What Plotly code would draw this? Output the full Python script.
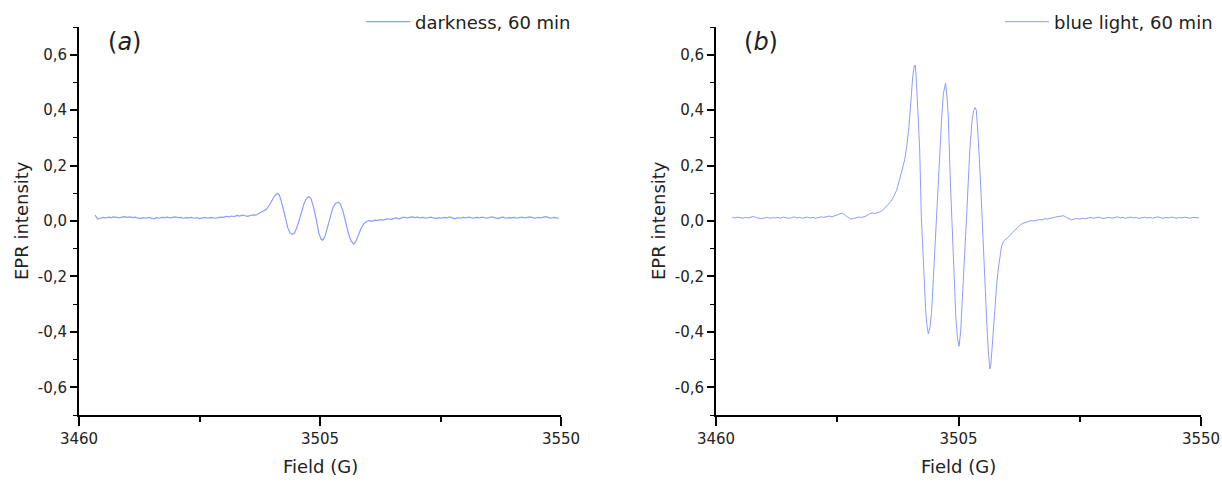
import plotly.graph_objects as go

# ---- EPR spectra (field in gauss, intensity in a.u.) ----
FIELD_A = [
    3463.0, 3463.5, 3464.0, 3464.5, 3465.0, 3465.5, 3466.0, 3466.5, 3467.0, 3467.5,
    3468.0, 3468.5, 3469.0, 3469.5, 3470.0, 3470.5, 3471.0, 3471.5, 3472.0, 3472.5,
    3473.0, 3473.5, 3474.0, 3474.5, 3475.0, 3475.5, 3476.0, 3476.5, 3477.0, 3477.5,
    3478.0, 3478.5, 3479.0, 3479.5, 3480.0, 3480.5, 3481.0, 3481.5, 3482.0, 3482.5,
    3483.0, 3483.5, 3484.0, 3484.5, 3485.0, 3485.5, 3486.0, 3486.5, 3487.0, 3487.5,
    3488.0, 3488.5, 3489.0, 3489.5, 3490.0, 3490.5, 3491.0, 3491.5, 3492.0, 3492.5,
    3493.0, 3493.5, 3494.0, 3494.5, 3495.0, 3495.5, 3496.0, 3496.5, 3497.0, 3497.4,
    3497.8, 3498.2, 3498.6, 3499.0, 3499.4, 3499.8, 3500.2, 3500.6, 3501.0, 3501.5,
    3502.0, 3502.5, 3502.9, 3503.3, 3503.8, 3504.3, 3504.8, 3505.2, 3505.5, 3505.9,
    3506.4, 3506.9, 3507.4, 3507.9, 3508.4, 3508.8, 3509.3, 3509.8, 3510.3, 3510.8,
    3511.3, 3511.7, 3512.2, 3512.7, 3513.2, 3513.7, 3514.2, 3514.7, 3515.2, 3515.7,
    3516.2, 3516.7, 3517.2, 3517.7, 3518.2, 3518.7, 3519.2, 3519.7, 3520.2, 3520.7,
    3521.2, 3521.7, 3522.2, 3522.7, 3523.2, 3523.7, 3524.2, 3524.7, 3525.2, 3525.7,
    3526.2, 3526.7, 3527.2, 3527.7, 3528.2, 3528.7, 3529.2, 3529.7, 3530.2, 3530.7,
    3531.2, 3531.7, 3532.2, 3532.7, 3533.2, 3533.7, 3534.2, 3534.7, 3535.2, 3535.7,
    3536.2, 3536.7, 3537.2, 3537.7, 3538.2, 3538.7, 3539.2, 3539.7, 3540.2, 3540.7,
    3541.2, 3541.7, 3542.2, 3542.7, 3543.2, 3543.7, 3544.2, 3544.7, 3545.2, 3545.7,
    3546.2, 3546.7, 3547.2, 3547.7, 3548.2, 3548.7, 3549.2, 3549.6,
]
EPR_A = [
    0.021, 0.007, 0.010, 0.013, 0.011, 0.014, 0.012, 0.015, 0.013, 0.011,
    0.014, 0.016, 0.013, 0.015, 0.012, 0.014, 0.011, 0.009, 0.012, 0.010,
    0.013, 0.011, 0.008, 0.012, 0.010, 0.013, 0.012, 0.014, 0.011, 0.013,
    0.015, 0.012, 0.013, 0.010, 0.012, 0.011, 0.013, 0.010, 0.012, 0.009,
    0.011, 0.013, 0.010, 0.012, 0.011, 0.010, 0.012, 0.014, 0.013, 0.017,
    0.015, 0.018, 0.016, 0.020, 0.018, 0.021, 0.019, 0.017, 0.020, 0.022,
    0.021, 0.027, 0.030, 0.036, 0.042, 0.056, 0.072, 0.090, 0.100, 0.094,
    0.070, 0.036, 0.004, -0.025, -0.043, -0.048, -0.044, -0.028, -0.004, 0.030,
    0.062, 0.082, 0.088, 0.082, 0.050, 0.005, -0.045, -0.066, -0.069, -0.058,
    -0.025, 0.015, 0.048, 0.064, 0.068, 0.062, 0.035, -0.005, -0.045, -0.072,
    -0.083, -0.074, -0.050, -0.025, -0.010, -0.002, 0.001, -0.001, 0.003, 0.002,
    0.005, 0.003, 0.006, 0.008, 0.006, 0.009, 0.011, 0.008, 0.012, 0.014,
    0.011, 0.013, 0.015, 0.012, 0.014, 0.011, 0.013, 0.010, 0.012, 0.014,
    0.011, 0.009, 0.012, 0.010, 0.013, 0.011, 0.015, 0.010, 0.008, 0.012,
    0.010, 0.013, 0.011, 0.014, 0.012, 0.010, 0.013, 0.011, 0.014, 0.012,
    0.010, 0.013, 0.015, 0.011, 0.009, 0.012, 0.014, 0.010, 0.012, 0.011,
    0.013, 0.010, 0.012, 0.014, 0.011, 0.013, 0.015, 0.012, 0.010, 0.013,
    0.011, 0.014, 0.016, 0.012, 0.010, 0.013, 0.011, 0.010,
]

FIELD_B = [
    3463.0, 3463.5, 3464.0, 3464.5, 3465.0, 3465.5, 3466.0, 3466.5, 3467.0, 3467.5,
    3468.0, 3468.5, 3469.0, 3469.5, 3470.0, 3470.5, 3471.0, 3471.5, 3472.0, 3472.5,
    3473.0, 3473.5, 3474.0, 3474.5, 3475.0, 3475.5, 3476.0, 3476.5, 3477.0, 3477.5,
    3478.0, 3478.5, 3479.0, 3479.5, 3480.0, 3480.5, 3481.0, 3481.5, 3482.0, 3482.5,
    3483.0, 3483.5, 3484.0, 3484.5, 3485.0, 3485.5, 3486.0, 3486.5, 3487.0, 3487.5,
    3488.0, 3488.5, 3489.0, 3489.5, 3490.0, 3490.5, 3491.0, 3491.5, 3492.0, 3492.5,
    3493.0, 3493.5, 3494.0, 3494.5, 3495.0, 3495.4, 3495.8, 3496.2, 3496.5, 3496.8,
    3497.0, 3497.2, 3497.5, 3497.8, 3498.1, 3498.4, 3498.6, 3498.9, 3499.1, 3499.4,
    3499.7, 3500.0, 3500.3, 3500.6, 3500.9, 3501.2, 3501.6, 3501.9, 3502.2, 3502.6,
    3502.9, 3503.1, 3503.5, 3504.0, 3504.5, 3504.8, 3505.1, 3505.4, 3505.9, 3506.5,
    3507.1, 3507.5, 3507.8, 3508.1, 3508.3, 3508.6, 3509.1, 3509.6, 3510.2, 3510.5,
    3510.8, 3511.0, 3511.4, 3511.7, 3512.1, 3512.4, 3512.7, 3513.0, 3513.4, 3513.8,
    3514.2, 3514.6, 3515.0, 3515.5, 3516.0, 3516.5, 3517.0, 3517.5, 3518.0, 3518.5,
    3519.0, 3519.5, 3520.0, 3520.5, 3521.0, 3521.5, 3522.0, 3522.5, 3523.0, 3523.5,
    3524.0, 3524.5, 3525.0, 3525.5, 3526.0, 3526.5, 3527.0, 3527.5, 3528.0, 3528.5,
    3529.0, 3529.5, 3530.0, 3530.5, 3531.0, 3531.5, 3532.0, 3532.5, 3533.0, 3533.5,
    3534.0, 3534.5, 3535.0, 3535.5, 3536.0, 3536.5, 3537.0, 3537.5, 3538.0, 3538.5,
    3539.0, 3539.5, 3540.0, 3540.5, 3541.0, 3541.5, 3542.0, 3542.5, 3543.0, 3543.5,
    3544.0, 3544.5, 3545.0, 3545.5, 3546.0, 3546.5, 3547.0, 3547.5, 3548.0, 3548.5,
    3549.0, 3549.6,
]
EPR_B = [
    0.013, 0.011, 0.014, 0.012, 0.010, 0.013, 0.011, 0.014, 0.016, 0.012,
    0.010, 0.008, 0.011, 0.013, 0.010, 0.012, 0.011, 0.013, 0.010, 0.014,
    0.012, 0.009, 0.012, 0.015, 0.011, 0.013, 0.010, 0.012, 0.014, 0.011,
    0.013, 0.010, 0.012, 0.015, 0.013, 0.016, 0.018, 0.015, 0.020, 0.022,
    0.026, 0.028, 0.020, 0.012, 0.007, 0.009, 0.011, 0.014, 0.013, 0.017,
    0.019, 0.026, 0.029, 0.027, 0.030, 0.034, 0.040, 0.050, 0.060, 0.072,
    0.090, 0.110, 0.145, 0.180, 0.220, 0.270, 0.340, 0.440, 0.520, 0.560,
    0.562, 0.500, 0.380, 0.257, 0.016, -0.130, -0.225, -0.320, -0.370, -0.407,
    -0.385, -0.330, -0.220, -0.105, 0.010, 0.137, 0.280, 0.378, 0.460, 0.498,
    0.440, 0.378, 0.137, -0.105, -0.347, -0.420, -0.452, -0.400, -0.226, 0.016,
    0.257, 0.360, 0.398, 0.410, 0.400, 0.318, 0.137, -0.105, -0.347, -0.460,
    -0.534, -0.520, -0.407, -0.310, -0.226, -0.170, -0.125, -0.090, -0.072, -0.066,
    -0.058, -0.052, -0.042, -0.032, -0.022, -0.014, -0.008, -0.004, -0.001, 0.002,
    0.000, 0.003, 0.005, 0.004, 0.008, 0.007, 0.010, 0.012, 0.014, 0.016,
    0.018, 0.019, 0.013, 0.007, 0.004, 0.007, 0.009, 0.006, 0.010, 0.008,
    0.011, 0.013, 0.010, 0.012, 0.014, 0.011, 0.009, 0.012, 0.013, 0.010,
    0.012, 0.015, 0.011, 0.013, 0.010, 0.012, 0.014, 0.011, 0.013, 0.009,
    0.012, 0.014, 0.011, 0.013, 0.010, 0.012, 0.015, 0.012, 0.010, 0.013,
    0.011, 0.014, 0.012, 0.010, 0.013, 0.011, 0.014, 0.012, 0.010, 0.013,
    0.012, 0.011,
]

SERIES_NAMES = ["darkness, 60 min", "blue light, 60 min"]
PANEL_LABELS = ["(<i>a</i>)", "(<i>b</i>)"]

X_TICKS = [3460, 3505, 3550]
X_TICK_TEXT = ["3460", "3505", "3550"]
X_MINOR = [3482.5, 3527.5]
Y_TICKS = [-0.6, -0.4, -0.2, 0.0, 0.2, 0.4, 0.6]
Y_TICK_TEXT = ["-0,6", "-0,4", "-0,2", "0,0", "0,2", "0,4", "0,6"]

X_TITLE = "Field (G)"
Y_TITLE = "EPR intensity"

W, H = 1222, 483
FONT = "DejaVu Sans"
LINE_COLOR = "#8d9cff"
TEXT_COLOR = "#222222"

fig = go.Figure()
fig.add_trace(go.Scatter(x=FIELD_A, y=EPR_A, mode="lines", name=SERIES_NAMES[0],
                         line=dict(color=LINE_COLOR, width=1.2),
                         xaxis="x", yaxis="y", legend="legend"))
fig.add_trace(go.Scatter(x=FIELD_B, y=EPR_B, mode="lines", name=SERIES_NAMES[1],
                         line=dict(color=LINE_COLOR, width=1.0),
                         xaxis="x2", yaxis="y2", legend="legend2"))

y_dom = [1 - 415 / H, 1 - 27 / H]
x_doms = [[79 / W, 561 / W], [716 / W, 1201 / W]]

def xaxis_style(dom, anchor):
    return dict(domain=dom, anchor=anchor, range=[3460, 3550],
                tickvals=X_TICKS, ticktext=X_TICK_TEXT,
                ticks="outside", ticklen=9, tickwidth=1.5, tickcolor="black",
                showline=True, linecolor="black", linewidth=1.8,
                showgrid=False, zeroline=False, automargin=False,
                tickfont=dict(family=FONT, size=15, color=TEXT_COLOR),
                minor=dict(tickvals=X_MINOR, ticks="outside", ticklen=5,
                           tickwidth=1.5, tickcolor="black", showgrid=False))

def yaxis_style(anchor):
    return dict(domain=y_dom, anchor=anchor, range=[-0.7, 0.7],
                tickvals=Y_TICKS, ticktext=Y_TICK_TEXT,
                ticks="outside", ticklen=7, tickwidth=1.5, tickcolor="black",
                showline=True, linecolor="black", linewidth=1.8,
                showgrid=False, zeroline=False, automargin=False,
                tickfont=dict(family=FONT, size=15, color=TEXT_COLOR),
                minor=dict(dtick=0.1, tick0=0, ticks="outside", ticklen=4,
                           tickwidth=1.2, tickcolor="black", showgrid=False))

annotations = []
for i, dom in enumerate(x_doms):
    xc = (dom[0] + dom[1]) / 2
    annotations.append(dict(text=X_TITLE, xref="paper", yref="paper",
                            x=xc, y=1 - 466 / H, showarrow=False,
                            xanchor="center", yanchor="middle",
                            font=dict(family=FONT, size=18, color=TEXT_COLOR)))
    annotations.append(dict(text=Y_TITLE, xref="paper", yref="paper",
                            x=dom[0] - 57 / W, y=1 - 221 / H, showarrow=False,
                            textangle=-90, xanchor="center", yanchor="middle",
                            font=dict(family=FONT, size=18, color=TEXT_COLOR)))
    annotations.append(dict(text=PANEL_LABELS[i], xref="paper", yref="paper",
                            x=dom[0] + 45 / W, y=1 - 42 / H, showarrow=False,
                            xanchor="center", yanchor="middle",
                            font=dict(family=FONT, size=24, color=TEXT_COLOR)))

legend_common = dict(bgcolor="rgba(0,0,0,0)", borderwidth=0,
                     font=dict(family=FONT, size=18, color=TEXT_COLOR),
                     itemwidth=44,
                     xanchor="right", yanchor="middle", itemclick=False)

fig.update_layout(
    width=W, height=H,
    margin=dict(l=0, r=0, t=0, b=0),
    paper_bgcolor="white", plot_bgcolor="white",
    xaxis=xaxis_style(x_doms[0], "y"),
    yaxis=yaxis_style("x"),
    xaxis2=xaxis_style(x_doms[1], "y2"),
    yaxis2=yaxis_style("x2"),
    legend=dict(x=576 / W, y=1 - 22 / H, **legend_common),
    legend2=dict(x=1218 / W, y=1 - 22 / H, **legend_common),
    annotations=annotations,
    showlegend=True,
)

fig.write_html("out.html")
